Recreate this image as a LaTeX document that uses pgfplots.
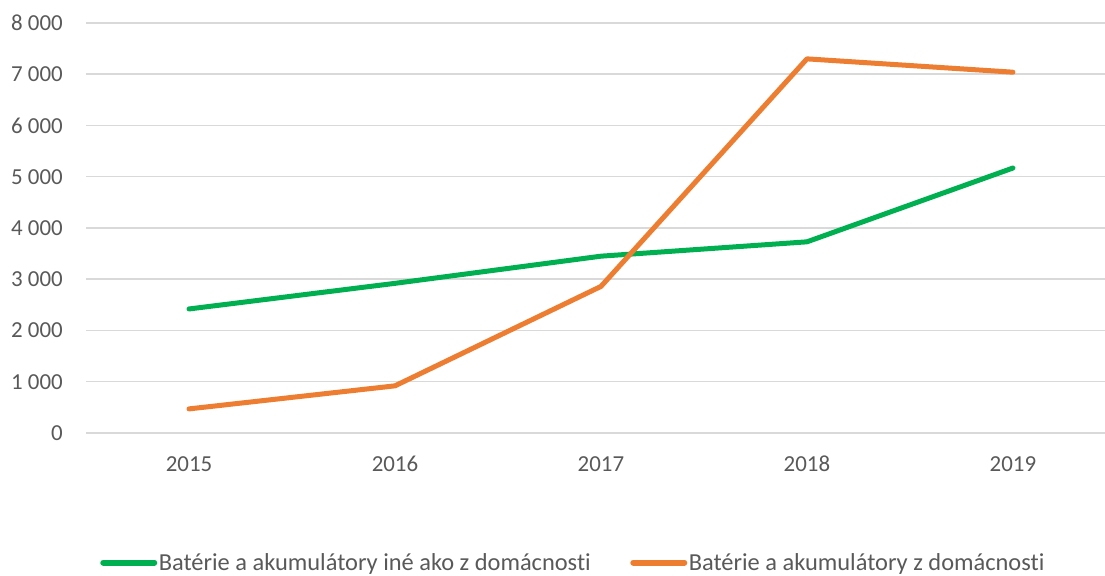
\documentclass[border=0pt]{standalone}
\usepackage{pgfplots}
\pgfplotsset{compat=1.18}
\usepackage{fontspec}
\setmainfont{Carlito}[Ligatures={NoCommon}]
\definecolor{txt}{HTML}{595959}
\definecolor{gridc}{HTML}{D9D9D9}
\definecolor{grn}{HTML}{00B050}
\definecolor{org}{HTML}{ED7D31}
\begin{document}
\begin{tikzpicture}[x=1bp,y=1bp]
\path[use as bounding box] (0,0) rectangle (1105,576);
\begin{axis}[
  at={(86bp,143bp)}, anchor=south west,
  scale only axis, width=1019bp, height=410bp,
  xmin=-0.5, xmax=4.447, ymin=0, ymax=8000,
  axis line style={draw=none},
  major tick style={draw=none},
  ymajorgrids,
  grid style={gridc, line width=1.5bp},
  xtick={0,1,2,3,4},
  xticklabels={2015,2016,2017,2018,2019},
  ytick={0,1000,2000,3000,4000,5000,6000,7000,8000},
  yticklabels={0,1 000,2 000,3 000,4 000,5 000,6 000,7 000,8 000},
  ticklabel style={font=\fontsize{23}{27}\selectfont, text=txt, inner sep=0pt},
  xticklabel shift=23bp,
  yticklabel shift=23bp,
  clip=false,
  legend columns=2,
  legend style={at={(0.478,-0.316)}, anchor=center, draw=none, fill=none,
    font=\fontsize{24.5}{29}\selectfont, text=txt, inner sep=0pt,
    nodes={inner sep=1.5bp},
    /tikz/every even column/.append style={column sep=38bp}},
  legend image code/.code={\draw[#1, line width=6bp, line cap=round] (0bp,0bp) -- (51bp,0bp);},
  every axis plot/.append style={line width=5bp, line join=round, line cap=round, mark=none},
]
\addplot[grn] coordinates {(0,2420) (1,2920) (2,3450) (3,3730) (4,5170)};
\addlegendentry{Batérie a akumulátory iné ako z domácnosti}
\addplot[org] coordinates {(0,470) (1,920) (2,2860) (3,7300) (4,7040)};
\addlegendentry{Batérie a akumulátory z domácnosti}
\end{axis}
\end{tikzpicture}
\end{document}
